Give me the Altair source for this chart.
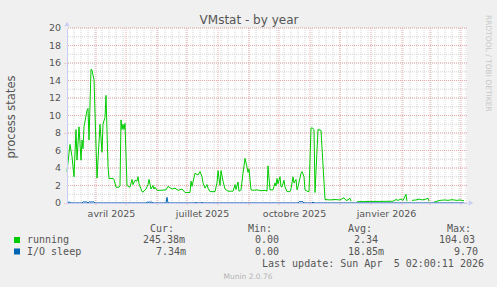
import altair as alt
import pandas as pd

# ---------------- data ----------------
run_dates = [
    "2025-03-03", "2025-03-06", "2025-03-08", "2025-03-10", "2025-03-12", "2025-03-13",
    "2025-03-15", "2025-03-17", "2025-03-18", "2025-03-19", "2025-03-20", "2025-03-23",
    "2025-03-24", "2025-03-25", "2025-03-27", "2025-03-28", "2025-03-29", "2025-03-30",
    "2025-04-02", "2025-04-05", "2025-04-07", "2025-04-08", "2025-04-10", "2025-04-11",
    "2025-04-13", "2025-04-14", "2025-04-18", "2025-04-19", "2025-04-21", "2025-04-24",
    "2025-04-25", "2025-04-26", "2025-04-27", "2025-04-28", "2025-04-29", "2025-04-30",
    "2025-05-02", "2025-05-05", "2025-05-07", "2025-05-08", "2025-05-10", "2025-05-12",
    "2025-05-13", "2025-05-14", "2025-05-17", "2025-05-18", "2025-05-21", "2025-05-23",
    "2025-05-24", "2025-05-26", "2025-05-28", "2025-05-29", "2025-05-30", "2025-06-01",
    "2025-06-04", "2025-06-10", "2025-06-12", "2025-06-16", "2025-06-19", "2025-06-22",
    "2025-06-26", "2025-06-29", "2025-07-04", "2025-07-05", "2025-07-06", "2025-07-09",
    "2025-07-12", "2025-07-14", "2025-07-16", "2025-07-17", "2025-07-19", "2025-07-21",
    "2025-07-22", "2025-07-24", "2025-07-29", "2025-07-31", "2025-08-01", "2025-08-03",
    "2025-08-04", "2025-08-06", "2025-08-08", "2025-08-11", "2025-08-16", "2025-08-18",
    "2025-08-19", "2025-08-21", "2025-08-22", "2025-08-24", "2025-08-26", "2025-08-28",
    "2025-08-30", "2025-08-31", "2025-09-01", "2025-09-03", "2025-09-05", "2025-09-09",
    "2025-09-13", "2025-09-17", "2025-09-19", "2025-09-20", "2025-09-22", "2025-09-25",
    "2025-09-27", "2025-09-28", "2025-09-29", "2025-09-30", "2025-10-02", "2025-10-03",
    "2025-10-04", "2025-10-06", "2025-10-07", "2025-10-09", "2025-10-12", "2025-10-13",
    "2025-10-15", "2025-10-16", "2025-10-18", "2025-10-19", "2025-10-20", "2025-10-23",
    "2025-10-24", "2025-10-26", "2025-10-27", "2025-10-30", "2025-10-31", "2025-11-02",
    "2025-11-03", "2025-11-05", "2025-11-06", "2025-11-09", "2025-11-12", "2025-11-16",
    "2025-11-21", "2025-11-26", "2025-12-01", "2025-12-05", "2025-12-07", "2025-12-09",
    "2025-12-11", "2025-12-12", "2025-12-15", "2025-12-18", "2025-12-31", "2026-01-10",
    "2026-01-23", "2026-01-26", "2026-01-28", "2026-01-31", "2026-02-02", "2026-02-05",
    "2026-02-06", "2026-02-08", "2026-02-11", "2026-02-15", "2026-02-18", "2026-02-21",
    "2026-02-25", "2026-02-27", "2026-02-28", "2026-03-02", "2026-03-05", "2026-03-11",
    "2026-03-16", "2026-03-19", "2026-03-23", "2026-03-28", "2026-03-31", "2026-04-04",
]
run_vals = [
    3.6, 6.7, 5.3, 3.0, 8.4, 4.9,
    8.7, 4.9, 7.2, 6.2, 8.7, 10.6,
    10.8, 7.2, 15.3, 15.2, 14.6, 14.1,
    2.85, 9.0, 5.8, 9.0, 9.8, 12.3,
    4.2, 2.8, 2.8, 2.7, 1.8, 1.8,
    2.0, 9.5, 8.4, 9.0, 8.4, 9.1,
    2.0, 1.8, 2.7, 2.1, 2.6, 2.5,
    3.0, 2.2, 1.3, 1.25, 1.6, 2.1,
    2.7, 1.6, 2.0, 1.6, 1.8, 1.45,
    1.45, 1.5, 1.9, 1.6, 1.7, 1.45,
    1.6, 1.2, 1.2, 2.5, 1.9, 3.4,
    3.2, 3.6, 3.0, 2.3, 1.7, 2.1,
    1.7, 1.3, 1.3, 2.3, 3.7, 2.0,
    3.7, 2.5, 1.6, 1.35, 1.35, 2.1,
    1.55, 2.4, 1.35, 1.5, 3.4, 5.1,
    4.1, 3.5, 3.9, 1.5, 1.45, 1.5,
    1.4, 1.45, 1.35, 4.25, 1.5, 1.5,
    2.3, 1.95, 2.8, 2.2, 3.0, 1.85,
    1.85, 2.6, 1.85, 1.3, 1.3, 1.6,
    3.0, 2.3, 2.7, 1.5, 1.85, 3.4,
    3.6, 3.0, 1.5, 1.3, 1.3, 8.55,
    8.6, 8.4, 1.2, 8.4, 8.3, 0.4,
    0.35, 0.4, 0.35, 0.6, 0.3, 0.35,
    0.55, 0.2, None, 0.15, 0.18, 0.18,
    0.2, 0.4, 0.3, 0.45, 0.3, 1.0,
    0.2, None, 0.3, 0.35, 0.45, 0.35,
    0.45, 0.55, 0.2, None, 0.1, 0.3,
    0.35, 0.3, 0.38, 0.3, 0.35, 0.25,
]

io_dates = [
    "2025-03-03", "2025-03-05", "2025-03-07", "2025-03-18", "2025-03-19", "2025-03-23",
    "2025-03-24", "2025-03-25", "2025-03-30", "2025-03-31", "2025-05-21", "2025-05-22",
    "2025-05-27", "2025-05-28", "2025-06-10", "2025-06-11", "2025-06-12", "2025-07-09",
    "2025-07-10", "2025-07-11", "2025-07-15", "2025-07-16", "2025-07-17", "2025-10-20",
    "2025-10-21", "2025-10-25", "2025-10-26", "2025-11-03", "2025-11-04", "2025-11-05",
    "2026-04-04",
]
io_vals = [
    0.0, 0.12, 0.0, 0.0, 0.12, 0.12,
    0.0, 0.12, 0.12, 0.0, 0.0, 0.1,
    0.1, 0.0, 0.0, 0.65, 0.0, 0.0,
    0.08, 0.0, 0.0, 0.08, 0.0, 0.0,
    0.15, 0.15, 0.0, 0.0, 0.12, 0.0,
    0.0,
]

y_major = list(range(0, 21, 2))
y_minor = list(range(0, 21))
month_lines = [
    "2025-04-01", "2025-05-01", "2025-06-01", "2025-07-01", "2025-08-01", "2025-09-01",
    "2025-10-01", "2025-11-01", "2025-12-01", "2026-01-01", "2026-02-01", "2026-03-01",
    "2026-04-01",
]
week_lines = [d.strftime("%Y-%m-%d") for d in pd.date_range("2025-03-10", "2026-04-06", freq="7D")]

# ---------------- styling ----------------
GREEN = "#00CC00"
BLUE = "#0066B3"
AXIS = "#C8CEF4"
TXT = "#555555"
W, H = 400, 175
LEFT, TOP = 67, 28

xscale = alt.Scale(
    type="utc",
    domain=[alt.DateTime(year=2025, month=3, date=3, utc=True),
            alt.DateTime(year=2026, month=4, date=7, utc=True)],
)
yscale = alt.Scale(domain=[0, 20], nice=False, zero=True)

months_fr = "['janvier','février','mars','avril','mai','juin','juillet','août','septembre','octobre','novembre','décembre']"

run_df = pd.DataFrame({"date": run_dates, "value": run_vals})
io_df = pd.DataFrame({"date": io_dates, "value": io_vals})

# first layer only carries the axes (drawn invisibly); other layers leave axis unset
axes_layer = alt.Chart(run_df).mark_line(opacity=0).encode(
    x=alt.X(
        "date:T",
        scale=xscale,
        axis=alt.Axis(
            values=[
                alt.DateTime(year=2025, month=4, date=16, utc=True),
                alt.DateTime(year=2025, month=7, date=16, utc=True),
                alt.DateTime(year=2025, month=10, date=16, utc=True),
                alt.DateTime(year=2026, month=1, date=16, utc=True),
            ],
            labelExpr=months_fr + "[utcmonth(datum.value)] + ' ' + utcyear(datum.value)",
            grid=False,
            ticks=False,
            labelPadding=5,
            labelFont="DejaVu Sans",
            labelFontSize=9.5,
            labelColor=TXT,
            labelFlush=False,
            labelOverlap=False,
            domainColor=AXIS,
            domainWidth=1,
            title=None,
            zindex=1,
        ),
    ),
    y=alt.Y(
        "value:Q",
        scale=yscale,
        axis=alt.Axis(
            values=y_major,
            grid=False,
            ticks=True,
            tickSize=4,
            tickColor="#EBAAAA",
            tickDash=[1, 1],
            labels=False,
            domainColor=AXIS,
            domainWidth=1,
            title=None,
            zindex=1,
        ),
    ),
)

y_labels = alt.Chart(pd.DataFrame({"v": y_major})).mark_text(
    align="right", baseline="middle", fontSize=9.5, font="DejaVu Sans", color=TXT
).encode(
    y=alt.Y("v:Q", scale=yscale),
    x=alt.value(-6),
    text=alt.Text("v:Q"),
)

minor_h = alt.Chart(pd.DataFrame({"v": y_minor})).mark_rule(
    color="#D4D4D4", strokeDash=[1, 1], strokeWidth=1
).encode(y=alt.Y("v:Q", scale=yscale))

minor_v = alt.Chart(pd.DataFrame({"d": week_lines})).mark_rule(
    color="#D4D4D4", strokeDash=[1, 1], strokeWidth=1
).encode(x=alt.X("d:T", scale=xscale))

major_h = alt.Chart(pd.DataFrame({"v": y_major})).mark_rule(
    color="#EBAAAA", strokeDash=[1, 1], strokeWidth=1
).encode(y=alt.Y("v:Q", scale=yscale))

major_v = alt.Chart(pd.DataFrame({"d": month_lines})).mark_rule(
    color="#EBAAAA", strokeDash=[1, 1], strokeWidth=1
).encode(
    x=alt.X("d:T", scale=xscale),
    y=alt.value(0),
    y2=alt.value(H + 3),
)

running = alt.Chart(run_df).mark_line(color=GREEN, strokeWidth=1).encode(
    x=alt.X("date:T", scale=xscale),
    y=alt.Y("value:Q", scale=yscale),
)

iosleep = alt.Chart(io_df).mark_line(color=BLUE, strokeWidth=1).encode(
    x=alt.X("date:T", scale=xscale),
    y=alt.Y("value:Q", scale=yscale),
)

one = pd.DataFrame({"a": [0]})


def txt(s, x, y, align="left", size=10, color=TXT, font="DejaVu Sans Mono",
        angle=0, baseline="middle"):
    return alt.Chart(one).mark_text(
        text=s, align=align, baseline=baseline, fontSize=size, color=color,
        font=font, angle=angle,
    ).encode(x=alt.value(x - LEFT), y=alt.value(y - TOP))


def box(x1, y1, x2, y2, color):
    return alt.Chart(one).mark_rect(color=color).encode(
        x=alt.value(x1 - LEFT), x2=alt.value(x2 - LEFT),
        y=alt.value(y1 - TOP), y2=alt.value(y2 - TOP),
    )


arrow_up = alt.Chart(one).mark_point(
    shape="triangle-up", filled=True, size=28, color=AXIS, opacity=1
).encode(x=alt.value(0), y=alt.value(-4))
arrow_right = alt.Chart(one).mark_point(
    shape="triangle-right", filled=True, size=28, color=AXIS, opacity=1
).encode(x=alt.value(W + 4), y=alt.value(H))

texts = [
    txt("VMstat - by year", 249, 24, align="center", size=12, font="DejaVu Sans",
        baseline="alphabetic"),
    txt("process states", 12, 117, align="center", size=11.5, font="DejaVu Sans",
        angle=270),
    txt("RRDTOOL / TOBI OETIKER", 488, 15, align="left", size=7.5, font="DejaVu Sans",
        color="#C8C8C8", angle=90),
    txt("Cur:", 150, 228.5), txt("Min:", 248, 228.5), txt("Avg:", 348, 228.5),
    txt("Max:", 447, 228.5),
    txt("running", 27, 240), txt("245.38m", 143, 240), txt("0.00", 255, 240),
    txt("2.34", 354, 240), txt("104.03", 439, 240),
    txt("I/O sleep", 27, 251.5), txt("7.34m", 156, 251.5), txt("0.00", 255, 251.5),
    txt("18.85m", 348, 251.5), txt("9.70", 454, 251.5),
    txt("Last update: Sun Apr", 262, 264),
    txt("5 02:00:11 2026", 484, 264, align="right"),
    txt("Munin 2.0.76", 248, 277, align="center", size=7.5, font="DejaVu Sans",
        color="#B4B4B4"),
    box(14, 237, 20, 243, GREEN),
    box(14, 248.5, 20, 254.5, BLUE),
]

chart = alt.layer(
    axes_layer, minor_h, minor_v, major_h, major_v, running, iosleep, y_labels,
    arrow_up, arrow_right, *texts
).properties(
    width=W,
    height=H,
    background="#F0F0F0",
    padding={"left": LEFT, "top": TOP, "right": 497 - LEFT - W, "bottom": 287 - TOP - H},
    autosize=alt.AutoSizeParams(type="none"),
).configure_view(fill="white", stroke=None)

chart.save("out.html", embed_options={"renderer": "svg", "actions": False})
